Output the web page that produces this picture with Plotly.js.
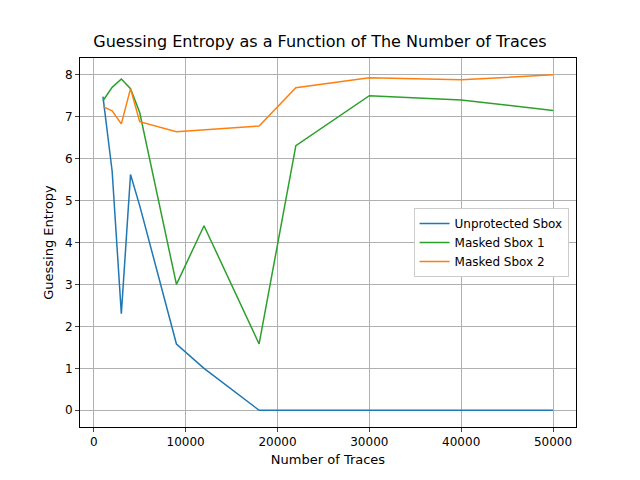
<!DOCTYPE html>
<html><head><script src="https://cdn.plot.ly/plotly-3.0.1.min.js"></script></head>
<body style="margin:0"><div id="c" style="width:640px;height:480px"></div>
<script>
const traces = [1000,2000,3000,4000,5000,9000,12000,18000,22000,30000,40000,50000];
const tracesOrange = [1000,2000,3000,4000,5000,9000,18000,22000,30000,40000,50000];
const unprotected = [7.48,5.7,2.3,5.62,4.88,1.58,1.0,0,0,0,0,0];
const masked1 = [7.38,7.7,7.9,7.67,7.1,3.0,4.4,1.58,6.31,7.5,7.4,7.15];
const masked2 = [7.24,7.14,6.83,7.67,6.88,6.64,6.78,7.69,7.93,7.88,8.0];
const xTicks = [0,10000,20000,30000,40000,50000];
const xTickText = ['0','10000','20000','30000','40000','50000'];
const data = [
 {x:traces,y:unprotected,name:'Unprotected Sbox',mode:'lines',line:{color:'#1f77b4',width:1.5}},
 {x:traces,y:masked1,name:'Masked Sbox 1',mode:'lines',line:{color:'#2ca02c',width:1.5}},
 {x:tracesOrange,y:masked2,name:'Masked Sbox 2',mode:'lines',line:{color:'#ff7f0e',width:1.5}}
];
const ax = {showline:true,mirror:true,linecolor:'black',ticks:'outside',ticklen:4,gridcolor:'#b0b0b0',zeroline:false,tickfont:{size:12,color:'black'}};
Plotly.newPlot('c',data,{
 width:640,height:480,font:{family:'DejaVu Sans',color:'black'},
 title:{text:'Guessing Entropy as a Function of The Number of Traces',font:{size:16},x:0.5,y:0.925},
 margin:{l:80,r:64,t:58,b:53},
 xaxis:Object.assign({},ax,{range:[-1500,52500],tickvals:xTicks,ticktext:xTickText,title:{text:'Number of Traces',font:{size:13},standoff:6}}),
 yaxis:Object.assign({},ax,{range:[-0.4,8.4],dtick:1,title:{text:'Guessing Entropy',font:{size:13},standoff:8}}),
 legend:{x:0.985,y:0.5,xanchor:'right',yanchor:'middle',bordercolor:'#ccc',borderwidth:1,font:{size:12}},
 plot_bgcolor:'white'
},{displayModeBar:false});
</script></body></html>
